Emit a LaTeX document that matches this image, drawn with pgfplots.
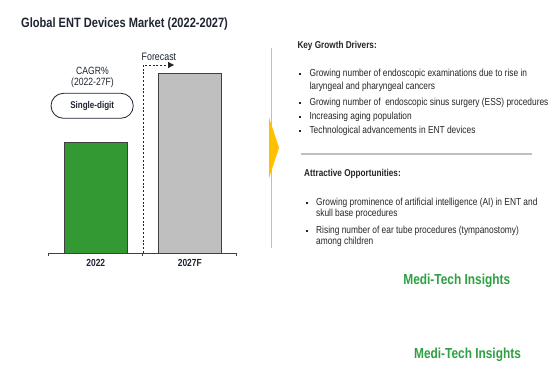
\documentclass[border=0pt]{standalone}
\usepackage{pgfplots}
\pgfplotsset{compat=1.18}
\usepackage{fontspec}
\setmainfont{Liberation Sans}[FakeStretch=0.82]
\usetikzlibrary{arrows.meta}
\definecolor{titlec}{HTML}{1E2532}
\definecolor{txt}{HTML}{262626}
\definecolor{barg}{HTML}{339933}
\definecolor{bargr}{HTML}{BFBFBF}
\definecolor{edge}{HTML}{404040}
\definecolor{sep}{HTML}{BFBFBF}
\definecolor{yel}{HTML}{FFC000}
\definecolor{mti}{HTML}{2DA042}
\newcommand{\bul}{\rule{2pt}{2pt}}
\begin{document}
\begin{tikzpicture}[x=1pt,y=-1pt]
\useasboundingbox (0,0) rectangle (557,371);
\fill[white] (0,0) rectangle (557,371);
\begin{axis}[
  at={(48.8pt,-253.3pt)}, anchor=south west,
  width=188pt, height=200pt, scale only axis,
  xmin=-0.5, xmax=1.5, ymin=0, ymax=200,
  axis x line*=bottom, axis y line=none,
  xtick={0,1}, xticklabels={2022,2027F},
  minor xtick={-0.5,0.5,1.5},
  major tick length=0pt, minor tick length=3pt,
  tick align=outside,
  x axis line style={edge, line width=0.8pt, -},
  minor tick style={edge, line width=0.8pt},
  xticklabel style={font=\fontsize{10.3}{11}\selectfont\bfseries, text=titlec, yshift=-2pt},
  ybar, bar width=63pt,
  clip=false,
]
\addplot[fill=barg, draw=edge, line width=0.8pt, bar shift=0pt] coordinates {(0,111)};
\addplot[fill=bargr, draw=edge, line width=0.8pt, bar shift=0pt] coordinates {(1,180)};
\end{axis}
% forecast dashed arrow
\draw[dash pattern=on 2pt off 1.8pt, line width=0.7pt, txt] (143,253) -- (143,65) -- (170,65);
\fill[txt] (174,65) -- (168,61.8) -- (168,68.2) -- cycle;
\node[anchor=west, inner sep=0, text=titlec, font=\fontsize{10.8}{12}\selectfont] at (141.5,57.3) {Forecast};
% CAGR
\node[inner sep=0, text=titlec, font=\fontsize{10.5}{12}\selectfont] at (92.5,71) {CAGR\%};
\node[inner sep=0, text=titlec, font=\fontsize{10.5}{12}\selectfont] at (92.5,82.7) {(2022-27F)};
\draw[titlec, line width=0.8pt, rounded corners=12.5pt] (51,93.3) rectangle (133.3,118.3);
\node[inner sep=0, text=titlec, font=\fontsize{9.8}{11}\selectfont\bfseries] at (92.2,105.8) {Single-digit};
% title
\node[anchor=west, inner sep=0, text=titlec, font=\fontsize{13.5}{15}\selectfont\bfseries] at (21,23.8) {Global ENT Devices Market (2022-2027)};
% divider line and chevron
\draw[sep, line width=1pt] (271.3,48.3) -- (271.3,248.3);
\fill[yel] (269,117.3) -- (279,147.7) -- (269,178.3) -- cycle;
% Key growth drivers
\node[anchor=west, inner sep=0, text=txt, font=\fontsize{10}{11}\selectfont\bfseries] at (297.3,46.3) {Key Growth Drivers:};
\begin{scope}[every node/.style={anchor=west, inner sep=0, text=txt, font=\fontsize{10.2}{11}\selectfont}]
\node at (298.5,74.3) {\bul};
\node at (309.3,74.3) {Growing number of endoscopic examinations due to rise in};
\node at (309.3,86.7) {laryngeal and pharyngeal cancers};
\node at (298.5,102.7) {\bul};
\node at (309.3,102.7) {Growing number of\ \ endoscopic sinus surgery (ESS) procedures};
\node at (298.5,117.3) {\bul};
\node at (309.3,117.3) {Increasing aging population};
\node at (298.5,130.7) {\bul};
\node at (309.3,130.7) {Technological advancements in ENT devices};
\end{scope}
\draw[sep, line width=2pt] (301,154) -- (531.7,154);
\node[anchor=west, inner sep=0, text=txt, font=\fontsize{10}{11}\selectfont\bfseries] at (304,174) {Attractive Opportunities:};
\begin{scope}[every node/.style={anchor=west, inner sep=0, text=txt, font=\fontsize{10.2}{11}\selectfont}]
\node at (306,203.3) {\bul};
\node at (316,203.3) {Growing prominence of artificial intelligence (AI) in ENT and};
\node at (316,214.3) {skull base procedures};
\node at (306,230.7) {\bul};
\node at (316,230.7) {Rising number of ear tube procedures (tympanostomy)};
\node at (316,241.7) {among children};
\end{scope}
\node[inner sep=0, text=mti, font=\fontsize{14.5}{16}\selectfont\bfseries] at (456.8,281) {Medi-Tech Insights};
\node[inner sep=0, text=mti, font=\fontsize{14.5}{16}\selectfont\bfseries] at (467.5,354.3) {Medi-Tech Insights};
\end{tikzpicture}
\end{document}
